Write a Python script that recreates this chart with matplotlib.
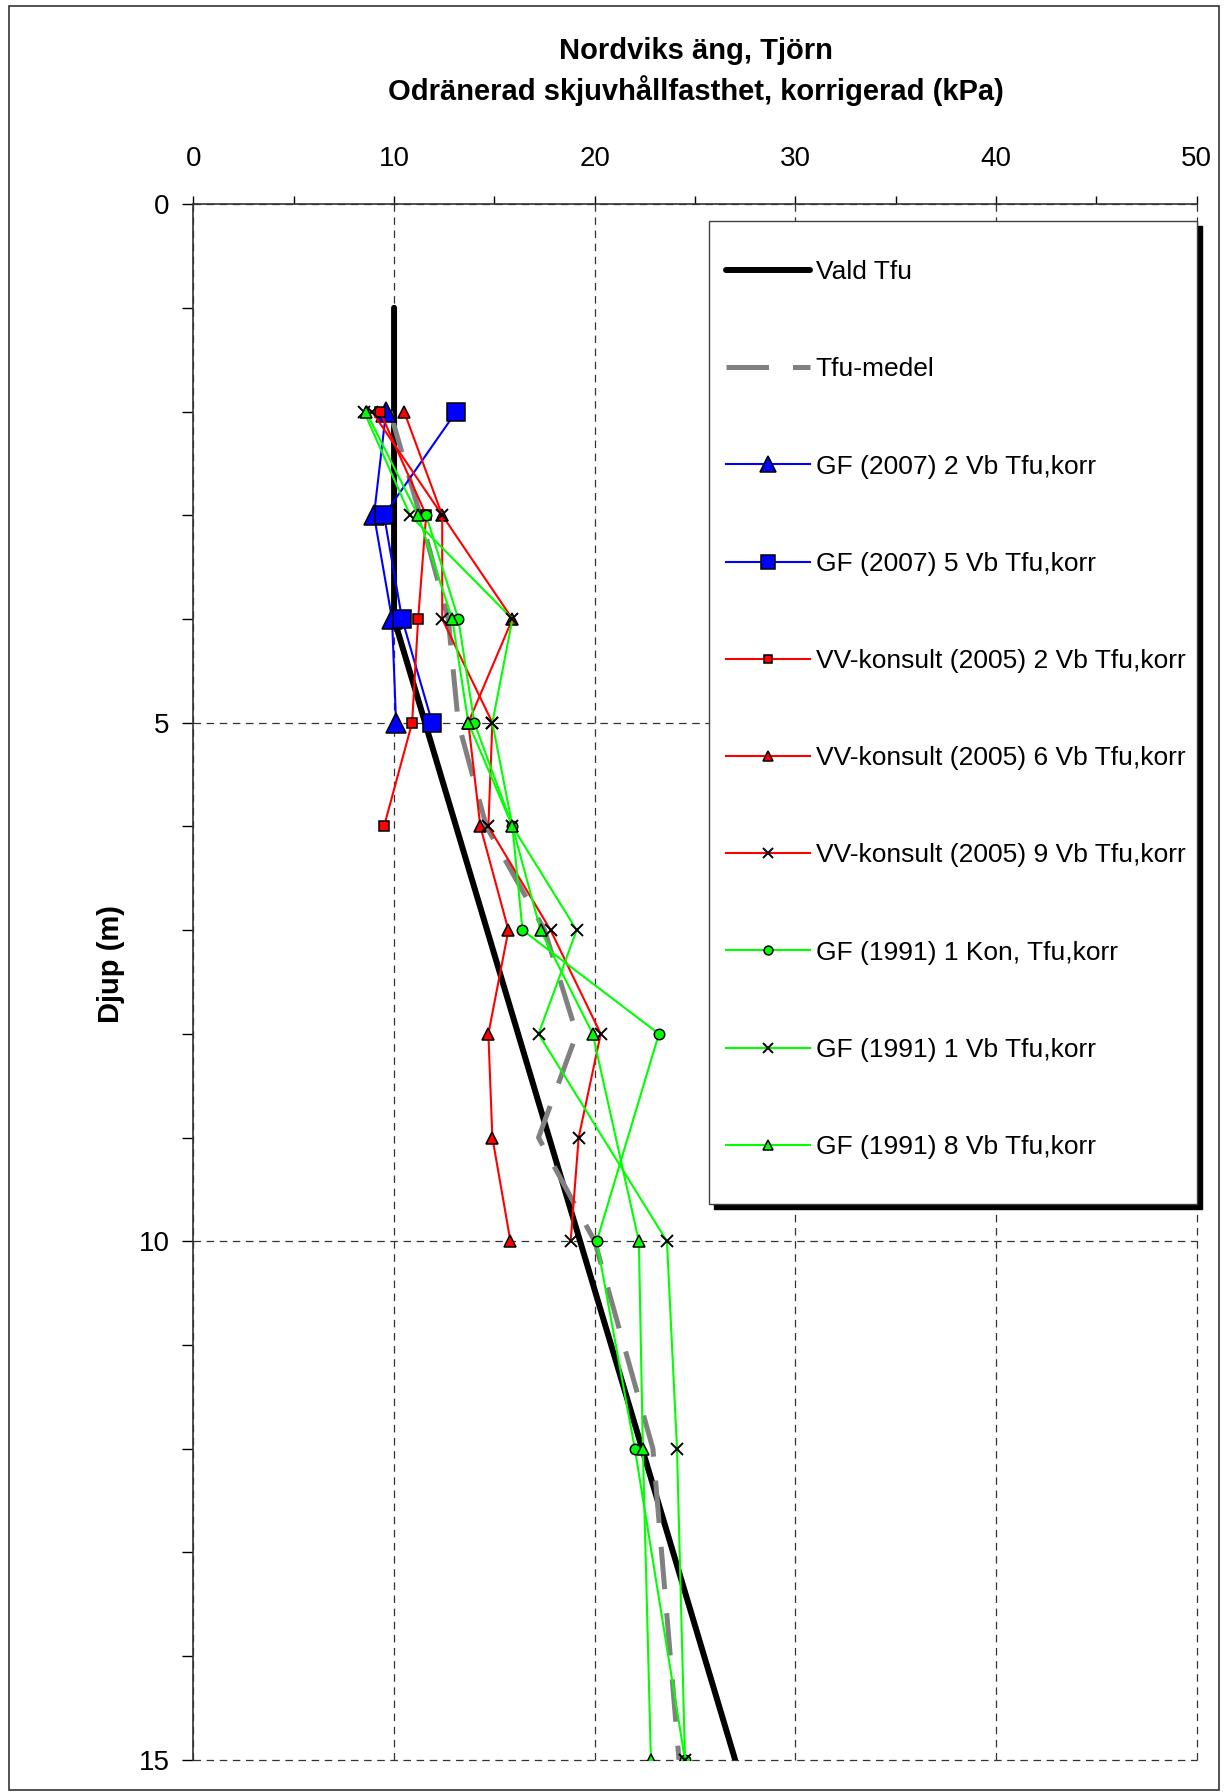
import matplotlib.pyplot as plt
from matplotlib.patches import Rectangle

plt.rcParams['font.family'] = ['Liberation Sans', 'DejaVu Sans']

# -------- DATA (depth in m, strength in kPa) --------
vald_depth = [1, 4, 15]
vald_tfu = [10, 10, 27]

medel_depth = [2, 3, 4, 5, 6, 7, 8, 9, 10, 12, 15]
medel_tfu = [9.8, 11.3, 12.7, 13.2, 14.6, 17.5, 19.1, 17.2, 20.0, 22.9, 24.2]

gf07_2_depth = [2, 3, 4, 5]
gf07_2_tfu = [9.6, 9.0, 9.9, 10.1]

gf07_5_depth = [2, 3, 4, 5]
gf07_5_tfu = [13.1, 9.5, 10.4, 11.9]

vv05_2_depth = [2, 3, 4, 5, 6]
vv05_2_tfu = [9.3, 11.6, 11.2, 10.9, 9.5]

vv05_6_depth = [2, 3, 4, 5, 6, 7, 8, 9, 10]
vv05_6_tfu = [10.5, 12.4, 15.9, 13.7, 14.3, 15.7, 14.7, 14.9, 15.8]

vv05_9_depth = [2, 3, 4, 5, 6, 7, 8, 9, 10]
vv05_9_tfu = [8.9, 12.4, 12.4, 14.9, 14.7, 17.8, 20.3, 19.2, 18.8]

gf91_kon_depth = [3, 4, 5, 6, 7, 8, 10, 12, 15]
gf91_kon_tfu = [11.6, 13.2, 14.0, 15.9, 16.4, 23.2, 20.1, 22.0, 24.5]

gf91_1_depth = [2, 3, 4, 5, 6, 7, 8, 10, 12, 15]
gf91_1_tfu = [8.5, 10.8, 15.9, 14.9, 15.9, 19.1, 17.2, 23.6, 24.1, 24.5]

gf91_8_depth = [2, 3, 4, 5, 6, 7, 8, 10, 12, 15]
gf91_8_tfu = [8.6, 11.2, 12.9, 13.7, 15.9, 17.3, 19.9, 22.2, 22.4, 22.8]

labels = ["Vald Tfu", "Tfu-medel",
          "GF (2007) 2 Vb Tfu,korr", "GF (2007) 5 Vb Tfu,korr",
          "VV-konsult (2005) 2 Vb Tfu,korr", "VV-konsult (2005) 6 Vb Tfu,korr",
          "VV-konsult (2005) 9 Vb Tfu,korr", "GF (1991) 1 Kon, Tfu,korr",
          "GF (1991) 1 Vb Tfu,korr", "GF (1991) 8 Vb Tfu,korr"]

# -------- FIGURE --------
W, H = 1228, 1792
fig = plt.figure(figsize=(W / 100, H / 100), dpi=100)
ax = fig.add_axes([193.4 / W, 1 - 1759.9 / H, 1003.3 / W, 1555.8 / H])

# outer frame round the whole chart
fig.patches.append(Rectangle((9 / W, 2 / H), 1210 / W, 1784 / H, transform=fig.transFigure,
                             fill=False, edgecolor='#333333', lw=1.2))

lines = []
lines += ax.plot(vald_tfu, vald_depth, color='black', lw=4.3, solid_capstyle='round', zorder=2)
lines += ax.plot(medel_tfu, medel_depth, color='#808080', lw=3.6, dashes=(8.5, 4.8), zorder=2)

mk = dict(markeredgecolor='black', markeredgewidth=1.1, lw=1.5, zorder=3)
lines += ax.plot(gf07_2_tfu, gf07_2_depth, color='#0000FF', marker='^', markersize=14, markerfacecolor='#0000FF', **mk)
lines += ax.plot(gf07_5_tfu, gf07_5_depth, color='#0000FF', marker='s', markersize=12.5, markerfacecolor='#0000FF', **mk)
lines += ax.plot(vv05_2_tfu, vv05_2_depth, color='#FF0000', marker='s', markersize=7, markerfacecolor='#FF0000', **mk)
lines += ax.plot(vv05_6_tfu, vv05_6_depth, color='#FF0000', marker='^', markersize=8, markerfacecolor='#FF0000', **mk)
lines += ax.plot(vv05_9_tfu, vv05_9_depth, color='#FF0000', marker='x', markersize=9, markeredgecolor='black',
                 markeredgewidth=1.4, lw=1.5, zorder=3)
lines += ax.plot(gf91_kon_tfu, gf91_kon_depth, color='#00FF00', marker='o', markersize=7.5, markerfacecolor='#00FF00', **mk)
lines += ax.plot(gf91_1_tfu, gf91_1_depth, color='#00FF00', marker='x', markersize=9, markeredgecolor='black',
                 markeredgewidth=1.4, lw=1.5, zorder=3)
lines += ax.plot(gf91_8_tfu, gf91_8_depth, color='#00FF00', marker='^', markersize=8, markerfacecolor='#00FF00', **mk)

# -------- AXES --------
ax.set_xlim(0, 50)
ax.set_ylim(15, 0)
ax.set_xticks(range(0, 51, 10))
ax.set_xticks(range(5, 50, 10), minor=True)
ax.set_yticks([0, 5, 10, 15])
ax.set_yticks(range(0, 16), minor=True)
ax.xaxis.tick_top()
ax.tick_params(axis='x', which='both', direction='out', length=5.8, width=1, pad=17, labelsize=20)
ax.tick_params(axis='y', which='both', direction='out', length=8, width=1, pad=9, labelsize=20)
for s in ['right', 'bottom']:
    ax.spines[s].set_visible(False)
for s in ['top', 'left']:
    ax.spines[s].set_linewidth(1.2)
    ax.spines[s].set_color('#333333')
ax.grid(True, which='major', color='#333333', lw=0.9, linestyle=(0, (6, 4.5)), zorder=1)
ax.set_axisbelow(True)
# keep the dashed grid lines on the right/bottom edges fully visible
for gl in ax.get_xgridlines() + ax.get_ygridlines():
    gl.set_clip_on(False)

fig.text(696 / W, 1 - 51 / H, "Nordviks äng, Tjörn", ha='center', va='center', fontsize=21, fontweight='bold')
fig.text(696 / W, 1 - 91 / H, "Odränerad skjuvhållfasthet, korrigerad (kPa)", ha='center', va='center',
         fontsize=21, fontweight='bold')
fig.text(111 / W, 1 - 964 / H, "Djup (m)", rotation=90, ha='center', va='center', fontsize=21, fontweight='bold')

# -------- LEGEND --------
fx0, fy0, fw, fh = 0.5139, 0.3573, 0.4861, 0.6318
ax.add_patch(Rectangle((fx0 + 0.005, fy0 - 0.0032), fw, fh, transform=ax.transAxes,
                       facecolor='black', edgecolor='black', clip_on=False, zorder=6))
ax.add_patch(Rectangle((fx0, fy0), fw, fh, transform=ax.transAxes,
                       facecolor='white', edgecolor='#404040', lw=1, clip_on=False, zorder=7))
leg = ax.legend(lines, labels, loc='upper left', bbox_to_anchor=(0.5307, 0.9640), borderaxespad=0,
                borderpad=0, frameon=False, fontsize=19, handlelength=3.2, handletextpad=0.2,
                labelspacing=2.775, numpoints=1, markerscale=0.85)
leg.set_zorder(8)

fig.savefig("out.png", dpi=100)
